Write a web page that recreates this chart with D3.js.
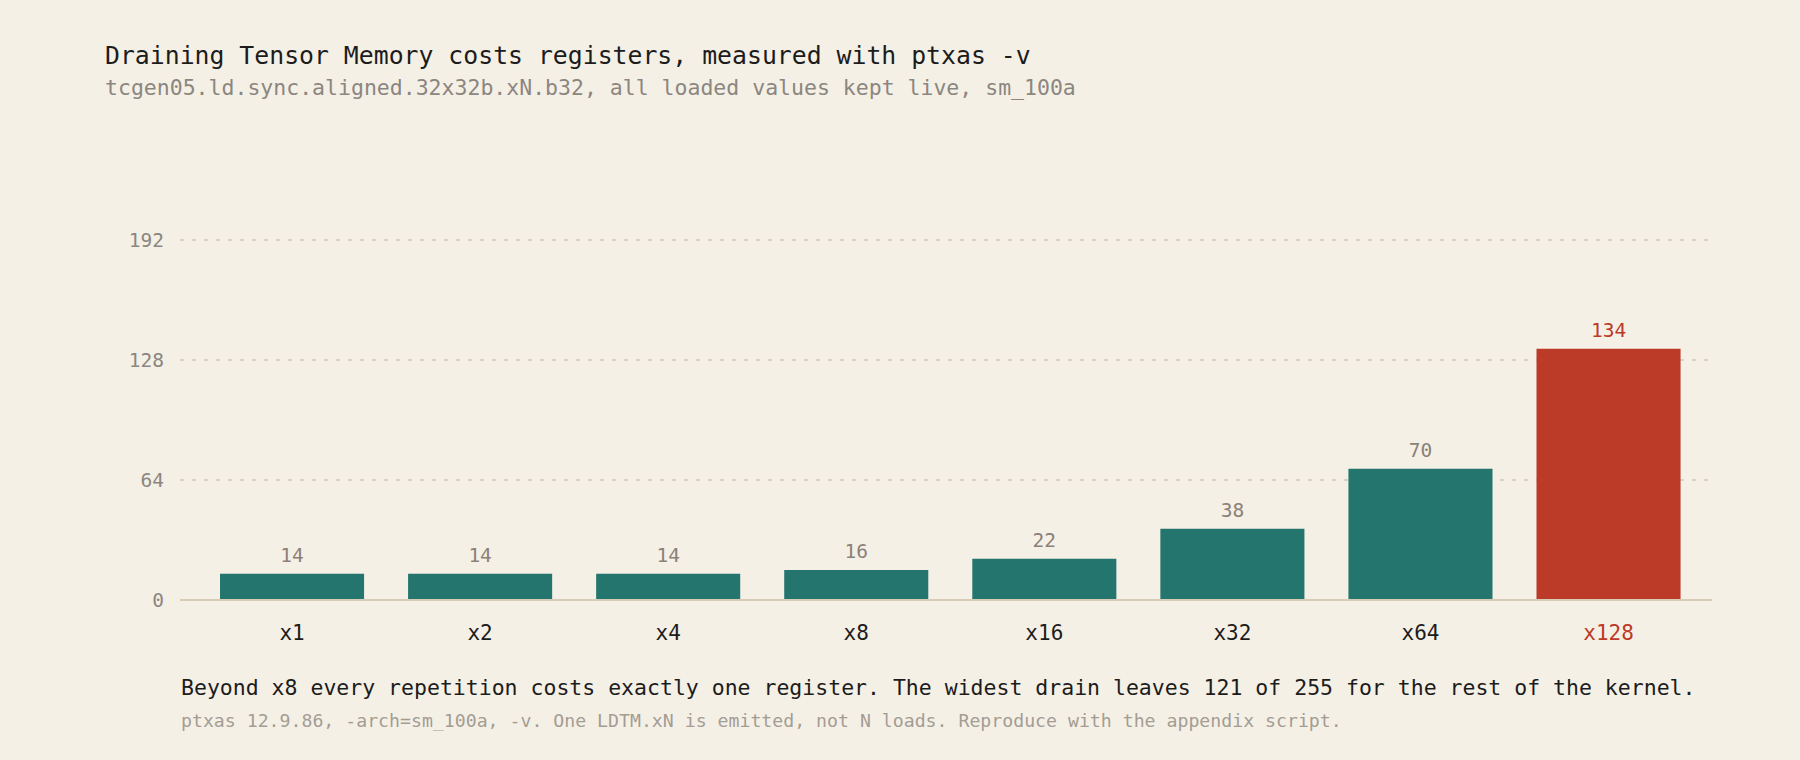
<!DOCTYPE html>
<html>
<head>
<meta charset="utf-8">
<style>
  html, body { margin: 0; padding: 0; background: #f5f0e6; }
  svg { display: block; }
  text { font-family: "DejaVu Sans Mono", "Liberation Mono", monospace; }
</style>
</head>
<body>
<svg width="1800" height="760"></svg>
<script src="https://d3js.org/d3.v7.min.js"></script>
<script>

  // data
  var widths = ["x1", "x2", "x4", "x8", "x16", "x32", "x64", "x128"],
      registers = [14, 14, 14, 16, 22, 38, 70, 134],
      yTicks = [0, 64, 128, 192],
      highlight = "x128";

  var title = "Draining Tensor Memory costs registers, measured with ptxas -v",
      subtitle = "tcgen05.ld.sync.aligned.32x32b.xN.b32, all loaded values kept live, sm_100a",
      note = "Beyond x8 every repetition costs exactly one register. The widest drain leaves 121 of 255 for the rest of the kernel.",
      source = "ptxas 12.9.86, -arch=sm_100a, -v. One LDTM.xN is emitted, not N loads. Reproduce with the appendix script.";

  var teal = "#23756d", red = "#bb3a28";

  var svg = d3.select("svg");

  var x = d3.scaleBand()
      .domain(widths)
      .range([180, 1712])
      .paddingInner(0.234)
      .paddingOuter(0.19)
      .align(0.56);

  var y = d3.scaleLinear()
      .domain([0, 192])
      .range([600, 240]);

  // titles
  svg.append("text")
      .attr("x", 105).attr("y", 64)
      .attr("font-size", 24.8)
      .attr("fill", "#1c1c1c")
      .text(title);

  svg.append("text")
      .attr("x", 105).attr("y", 95)
      .attr("font-size", 21.5)
      .attr("fill", "#8b8680")
      .text(subtitle);

  // grid
  var grid = svg.append("g");
  grid.selectAll("line")
      .data(yTicks.filter(function(d) { return d > 0; }))
      .enter().append("line")
      .attr("x1", 180).attr("x2", 1712)
      .attr("y1", function(d) { return y(d); })
      .attr("y2", function(d) { return y(d); })
      .attr("stroke", "#dcd3c1")
      .attr("stroke-width", 2)
      .attr("stroke-dasharray", "4,8");

  // y axis labels
  var yAxis = svg.append("g")
      .attr("transform", "translate(172,0)")
      .call(d3.axisLeft(y).tickValues(yTicks).tickSize(0).tickPadding(8));
  yAxis.select(".domain").remove();
  yAxis.selectAll("text")
      .attr("font-family", "DejaVu Sans Mono")
      .attr("font-size", 19.5)
      .attr("fill", "#8b8680");

  // bars
  svg.append("g").selectAll("rect")
      .data(widths)
      .enter().append("rect")
      .attr("x", function(d) { return x(d); })
      .attr("width", x.bandwidth())
      .attr("y", function(d, i) { return y(registers[i]); })
      .attr("height", function(d, i) { return y(0) - y(registers[i]); })
      .attr("fill", function(d) { return d === highlight ? red : teal; });

  // value labels
  svg.append("g").selectAll("text")
      .data(widths)
      .enter().append("text")
      .attr("x", function(d) { return x(d) + x.bandwidth() / 2; })
      .attr("y", function(d, i) { return y(registers[i]) - 12; })
      .attr("text-anchor", "middle")
      .attr("font-size", 19.5)
      .attr("fill", function(d) { return d === highlight ? red : "#8b8178"; })
      .text(function(d, i) { return registers[i]; });

  // baseline
  svg.append("line")
      .attr("x1", 180).attr("x2", 1712)
      .attr("y1", y(0)).attr("y2", y(0))
      .attr("stroke", "#d6ccb8")
      .attr("stroke-width", 2);

  // x axis labels
  var xAxis = svg.append("g")
      .attr("transform", "translate(0," + y(0) + ")")
      .call(d3.axisBottom(x).tickSize(0).tickPadding(25));
  xAxis.select(".domain").remove();
  xAxis.selectAll("text")
      .attr("font-family", "DejaVu Sans Mono")
      .attr("font-size", 21)
      .attr("fill", function(d) { return d === highlight ? red : "#1c1c1c"; });

  // notes
  svg.append("text")
      .attr("x", 181).attr("y", 695)
      .attr("font-size", 21.5)
      .attr("fill", "#1c1c1c")
      .text(note);

  svg.append("text")
      .attr("x", 181).attr("y", 727)
      .attr("font-size", 18.2)
      .attr("fill", "#a39d94")
      .text(source);

</script>
</body>
</html>
